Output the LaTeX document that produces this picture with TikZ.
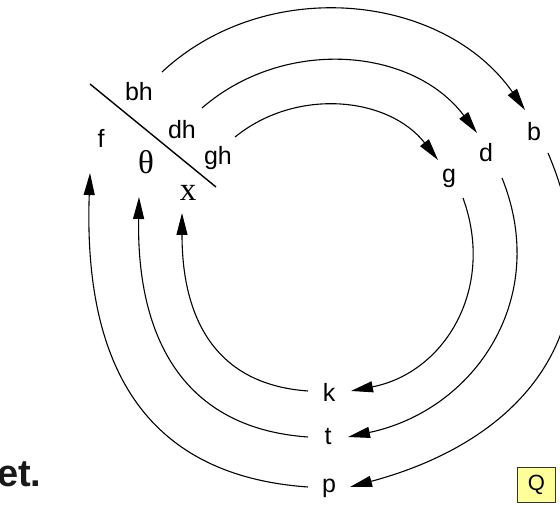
\documentclass[tikz,border=0pt]{standalone}
\usepackage{fontspec}
\setmainfont{Liberation Sans}
\newfontfamily\serifx{Liberation Serif}
\usetikzlibrary{arrows.meta}
\definecolor{qyellow}{RGB}{255,255,153}
\begin{document}
\begin{tikzpicture}[x=1pt,y=1pt,
  lab/.style={font=\fontsize{25}{27}\selectfont, inner sep=0pt},
  glab/.style={font=\serifx\fontsize{33}{35}\selectfont, inner sep=0pt},
  arr/.style={line width=1.1pt, -{Triangle[length=22pt,width=11pt]}},
]
\useasboundingbox (0,0) rectangle (560,-505);
% labels
\node[lab] (bh) at (139,-92) {bh};
\node[lab] (dh) at (182,-130) {dh};
\node[lab] (gh) at (218,-158) {gh};
\node[lab] (f) at (101,-138) {f};
\node[glab] (th) at (146,-162) {θ};
\node[glab] (x) at (188,-193) {x};
\node[lab] (b) at (534,-132) {b};
\node[lab] (d) at (486,-153) {d};
\node[lab] (g) at (449,-178) {g};
\node[lab] (k) at (329,-392) {k};
\node[lab] (t) at (328,-437) {t};
\node[lab] (p) at (329,-488) {p};
% slash
\coordinate (s1) at (90,-84);
\coordinate (s2) at (216,-187);
\draw[line width=1.4pt] (s1) -- (s2);
% outer
\draw[arr] ([shift={(23,20)}]bh.center) to[out=43,in=125] ([shift={(-9,22)}]b.center);
\draw[arr] ([shift={(14,-21)}]b.center) to[out=-67,in=15,looseness=1.22] ([shift={(21,1)}]p.center);
\draw[arr] ([shift={(-21,1)}]p.center) to[out=176,in=-92,looseness=1.18] ([shift={(-11,-35)}]f.center);
% middle
\draw[arr] ([shift={(20,22)}]dh.center) to[out=41,in=127] ([shift={(-9,20)}]d.center);
\draw[arr] ([shift={(16,-25)}]d.center) to[out=-68,in=12,looseness=1.1] ([shift={(20,0)}]t.center);
\draw[arr] ([shift={(-20,0)}]t.center) to[out=176,in=-91,looseness=1.15] ([shift={(-7,-35)}]th.center);
% inner
\draw[arr] ([shift={(17,21)}]gh.center) to[out=39,in=128] ([shift={(-11,18)}]g.center);
\draw[arr] ([shift={(14,-20)}]g.center) to[out=-70,in=11,looseness=1.1] ([shift={(22,1)}]k.center);
\draw[arr] ([shift={(-21,1)}]k.center) to[out=176,in=-90,looseness=1.15] ([shift={(-6,-20)}]x.center);
% background fragments
\node[anchor=base west, inner sep=0pt, font=\bfseries\fontsize{38}{40}\selectfont, text=black!90] (et) at (-3,-486) {et.};
\node[draw=black!80, line width=0.9pt, fill=qyellow, minimum width=38pt, minimum height=35pt, inner sep=0pt, font=\fontsize{22}{24}\selectfont] (q) at (536.5,-485) {Q};
\end{tikzpicture}
\end{document}
